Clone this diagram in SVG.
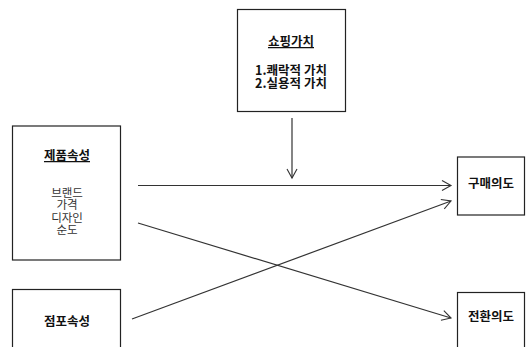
<svg xmlns="http://www.w3.org/2000/svg" width="527" height="347" viewBox="0 0 527 347">
<defs>
<marker id="ah" markerWidth="12" markerHeight="12" refX="10" refY="6" orient="auto" markerUnits="userSpaceOnUse">
<path d="M1,1 L10,6 L1,11" fill="none" stroke="#333" stroke-width="1.1"/>
</marker>
<style>
.box{fill:#fff;stroke:#222;stroke-width:1.2}
.t{font-family:"Noto Sans CJK KR","Noto Sans",sans-serif;font-size:12.5px;fill:#111;text-anchor:middle}
.b{font-weight:bold}
.l{fill:#333;font-size:11.5px}
.c{stroke:#333;stroke-width:1.2;fill:none;marker-end:url(#ah)}
</style>
</defs>
<rect width="527" height="347" fill="#fff"/>
<g id="connectors">
<line class="c" x1="292" y1="118" x2="292" y2="178"/>
<line class="c" x1="138" y1="185.5" x2="451" y2="185.5"/>
<line class="c" x1="138" y1="223" x2="451" y2="318"/>
<line class="c" x1="132" y1="319" x2="451" y2="201"/>
</g>
<g id="shopping-value">
<rect class="box" x="237.5" y="9.5" width="108" height="102"/>
<text class="t b" x="291" y="46" text-decoration="underline">쇼핑가치</text>
<text class="t b" x="291" y="75">1.쾌락적 가치</text>
<text class="t b" x="291" y="88">2.실용적 가치</text>
</g>
<g id="product-attr">
<rect class="box" x="12.5" y="126" width="108" height="134"/>
<text class="t b" x="67" y="160" text-decoration="underline">제품속성</text>
<text class="t l" x="67" y="197">브랜드</text>
<text class="t l" x="67" y="209">가격</text>
<text class="t l" x="67" y="221.5">디자인</text>
<text class="t l" x="67" y="233.5">순도</text>
</g>
<g id="store-attr">
<rect class="box" x="12.5" y="289.5" width="108" height="70"/>
<text class="t b" x="67" y="326">점포속성</text>
</g>
<g id="purchase-intent">
<rect class="box" x="457.5" y="157" width="67" height="58"/>
<text class="t b" x="491" y="188">구매의도</text>
</g>
<g id="switch-intent">
<rect class="box" x="457.5" y="292.5" width="67" height="70"/>
<text class="t b" x="491" y="321">전환의도</text>
</g>
</svg>
